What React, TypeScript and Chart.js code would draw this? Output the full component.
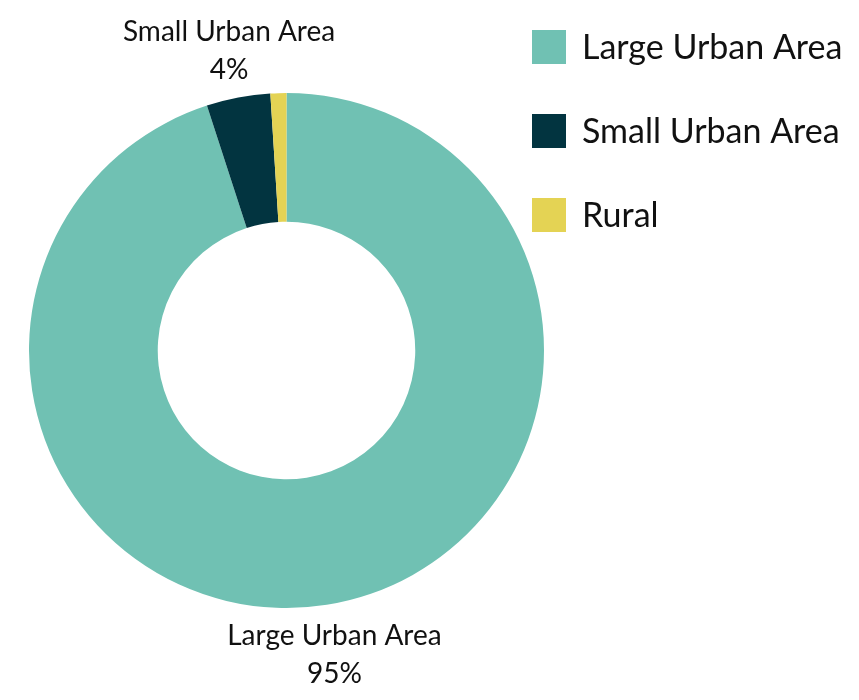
import React, { useEffect, useRef } from 'react';
import { Chart, registerables } from 'chart.js';

Chart.register(...registerables);

const categories = ['Large Urban Area', 'Small Urban Area', 'Rural'];
const shares = [95, 4, 1];
const colors = ['#70C1B3', '#023440', '#E4D354'];
const showSliceLabel = [true, true, false];

const FONT = 'Lato, "DejaVu Sans", sans-serif';

const sliceLabelPlugin = {
  id: 'sliceLabels',
  afterDatasetsDraw(chart: any) {
    const ctx = chart.ctx;
    const meta = chart.getDatasetMeta(0);
    const data = chart.data.datasets[0].data as number[];
    const total = data.reduce((a: number, b: number) => a + b, 0);
    ctx.save();
    ctx.fillStyle = '#111';
    ctx.font = `28px ${FONT}`;
    ctx.textAlign = 'center';
    ctx.textBaseline = 'middle';
    meta.data.forEach((arc: any, i: number) => {
      if (!showSliceLabel[i]) return;
      const p = arc.getProps(['x', 'y', 'startAngle', 'endAngle', 'outerRadius'], true);
      const mid = (p.startAngle + p.endAngle) / 2;
      const d = p.outerRadius + 49;
      const lx = p.x + Math.cos(mid) * d;
      const ly = p.y + Math.sin(mid) * d;
      const pct = Math.round((data[i] / total) * 100) + '%';
      ctx.fillText(chart.data.labels[i], lx, ly - 17);
      ctx.fillText(pct, lx, ly + 21);
    });
    ctx.restore();
  },
};

const legendPlugin = {
  id: 'customLegend',
  afterDraw(chart: any) {
    const ctx = chart.ctx;
    const ds = chart.data.datasets[0];
    ctx.save();
    ctx.font = `34px ${FONT}`;
    ctx.textAlign = 'left';
    ctx.textBaseline = 'middle';
    (chart.data.labels as string[]).forEach((lab, i) => {
      const cy = 47 + i * 84;
      ctx.fillStyle = ds.backgroundColor[i];
      ctx.fillRect(532, cy - 17, 34, 34);
      ctx.fillStyle = '#111';
      ctx.fillText(lab, 582, cy + 1);
    });
    ctx.restore();
  },
};

export default function App() {
  const ref = useRef<HTMLCanvasElement>(null);
  useEffect(() => {
    if (!ref.current) return;
    const chart = new Chart(ref.current, {
      type: 'doughnut',
      data: {
        labels: categories,
        datasets: [
          {
            data: shares,
            backgroundColor: colors,
            borderWidth: 0,
          },
        ],
      },
      options: {
        responsive: false,
        animation: false,
        cutout: '50%',
        layout: { padding: { left: 28, right: 314, top: 93, bottom: 92 } },
        plugins: {
          legend: { display: false },
          tooltip: { enabled: false },
        },
      },
      plugins: [sliceLabelPlugin, legendPlugin],
    });
    if ((document as any).fonts) {
      (document as any).fonts.load(`28px Lato`).then(() => chart.draw()).catch(() => {});
    }
    return () => chart.destroy();
  }, []);
  return (
    <div style={{ position: 'absolute', left: 0, top: 0, width: 859, height: 700, background: '#fff' }}>
      <canvas ref={ref} width={859} height={700} style={{ display: 'block' }} />
    </div>
  );
}
